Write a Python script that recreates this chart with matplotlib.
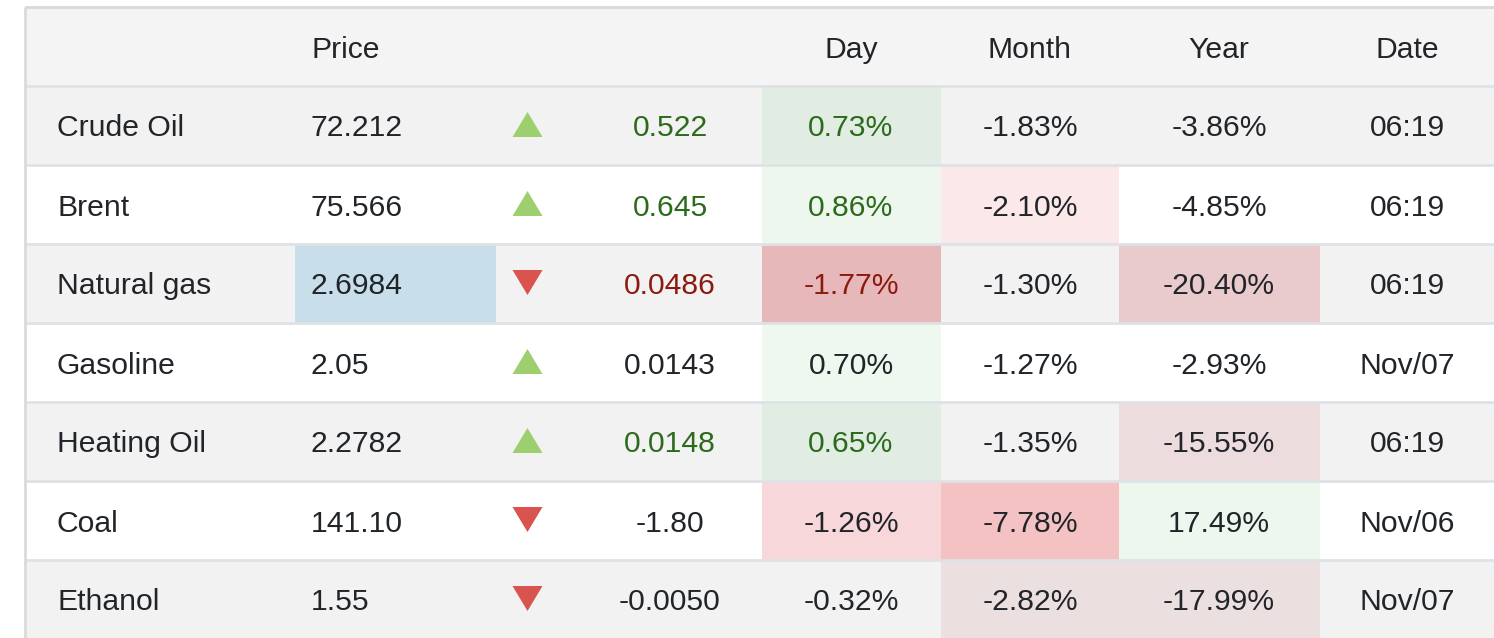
import numpy as np
import matplotlib.pyplot as plt

# Table contents
names = ['Crude Oil', 'Brent', 'Natural gas', 'Gasoline', 'Heating Oil', 'Coal', 'Ethanol']
prices = ['72.212', '75.566', '2.6984', '2.05', '2.2782', '141.10', '1.55']
directions = ['up', 'up', 'down', 'up', 'up', 'down', 'down']
changes = ['0.522', '0.645', '0.0486', '0.0143', '0.0148', '-1.80', '-0.0050']
day_pct = ['0.73%', '0.86%', '-1.77%', '0.70%', '0.65%', '-1.26%', '-0.32%']
month_pct = ['-1.83%', '-2.10%', '-1.30%', '-1.27%', '-1.35%', '-7.78%', '-2.82%']
year_pct = ['-3.86%', '-4.85%', '-20.40%', '-2.93%', '-15.55%', '17.49%', '-17.99%']
dates = ['06:19', '06:19', '06:19', 'Nov/07', '06:19', 'Nov/06', 'Nov/07']
headers = ['', 'Price', '', 'Day', 'Month', 'Year', 'Date']

# tone of the change / day text
tones = ['green', 'green', 'red', 'black', 'green', 'black', 'black']

# cell highlight colours (styles, None = row background)
price_bg = [None, None, '#c8dfeb', None, None, None, None]
day_bg = ['#e1ece3', '#edf7ee', '#e6b8b9', '#eef8ef', '#e1ece3', '#f8d7da', None]
month_bg = [None, '#fbe9e9', None, None, None, '#f4c2c3', '#ecdfdf']
year_bg = [None, None, '#eacbcd', None, '#ecdcdd', '#edf7ee', '#ecdfdf']

plt.rcParams['font.family'] = ['Liberation Sans', 'DejaVu Sans']

text_dark = '#212529'
tone_color = {'green': '#2c6a1c', 'red': '#8c1a10', 'black': text_dark}

fig = plt.figure(figsize=(14.94, 6.38), dpi=100)
ax = fig.add_axes([0, 0, 1, 1])
ax.set_xlim(0, 1494)
ax.set_ylim(638, 0)
ax.axis('off')

# layout
top = 7
row_h = 79
left = 25
right = 1500
col_edges = [25, 295, 496, 762, 941, 1119, 1320, 1500]
n = len(names)
row_tops = np.array([top + row_h * (i + 1) for i in range(n)])
row_mid = row_tops + row_h / 2
fs = 21.7
base_off = 11

# header and row backgrounds
ax.bar(left, row_h, width=right - left, bottom=top, align='edge', color='#f4f4f4', zorder=0)
row_colors = ['#f2f2f2' if i % 2 == 0 else 'white' for i in range(n)]
ax.bar(np.full(n, left), np.full(n, row_h), width=right - left, bottom=row_tops,
       align='edge', color=row_colors, zorder=0)

# highlighted cells
for col, bgs in [(1, price_bg), (3, day_bg), (4, month_bg), (5, year_bg)]:
    x0 = col_edges[col]
    w = col_edges[col + 1] - x0
    for i, c in enumerate(bgs):
        if c is not None:
            ax.bar(x0, row_h, width=w, bottom=row_tops[i], align='edge', color=c, zorder=1)

# grid lines
ax.hlines(np.append(row_tops, row_tops[-1] + row_h), left, right, color='#dee2e6', lw=2, zorder=2)
ax.hlines(top, left, right, color='#d9d9d9', lw=2, zorder=2)
ax.vlines(left, top, 638, color='#dadada', lw=2, zorder=2)

# header texts
hy = top + row_h / 2 + base_off
ax.text(311, hy, headers[1], fontsize=fs, color=text_dark, ha='left', va='baseline')
for label, cx in zip(headers[3:], [851, 1030, 1219, 1407]):
    ax.text(cx, hy, label, fontsize=fs, color=text_dark, ha='center', va='baseline')

# arrows
up_marker = [(-1.2, -1), (1.2, -1), (0, 1)]
down_marker = [(-1.2, 1), (1.2, 1), (0, -1)]
for i, d in enumerate(directions):
    if d == 'up':
        ax.plot(527, row_mid[i] - 1.5, marker=up_marker, ms=21.6, color='#9dcf6e', mec='none', zorder=3)
    else:
        ax.plot(527, row_mid[i] - 1.5, marker=down_marker, ms=21.6, color='#d9534f', mec='none', zorder=3)

# body texts
for i in range(n):
    y = row_mid[i] + base_off
    ax.text(57, y, names[i], fontsize=fs, color=text_dark, ha='left', va='baseline', zorder=4)
    ax.text(311, y, prices[i], fontsize=fs, color=text_dark, ha='left', va='baseline', zorder=4)
    tc = tone_color[tones[i]]
    ax.text(670, y, changes[i], fontsize=fs, color=tc, ha='center', va='baseline', zorder=4)
    ax.text(851, y, day_pct[i], fontsize=fs, color=tc, ha='center', va='baseline', zorder=4)
    ax.text(1030, y, month_pct[i], fontsize=fs, color=text_dark, ha='center', va='baseline', zorder=4)
    ax.text(1219, y, year_pct[i], fontsize=fs, color=text_dark, ha='center', va='baseline', zorder=4)
    ax.text(1407, y, dates[i], fontsize=fs, color=text_dark, ha='center', va='baseline', zorder=4)

fig.savefig('out.png', dpi=100)
